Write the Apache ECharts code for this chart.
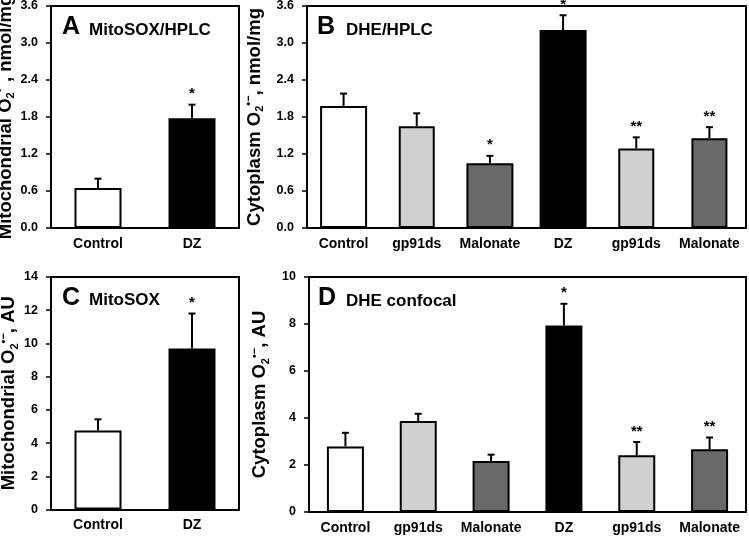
<!DOCTYPE html>
<html><head><meta charset="utf-8">
<script src="https://cdn.jsdelivr.net/npm/echarts@6/dist/echarts.min.js"></script>
<style>html,body{margin:0;padding:0;background:#fff}#c{width:749px;height:537px}</style>
</head><body><div id="c"></div>
<script>
// ---- data ----
const catsA = ['Control', 'DZ'];
const valsA = [0.65, 1.78];
const errA = [0.15, 0.22];
const starsA = ['', '*'];

const catsB = ['Control', 'gp91ds', 'Malonate', 'DZ', 'gp91ds', 'Malonate'];
const valsB = [1.98, 1.65, 1.05, 3.21, 1.29, 1.455];
const errB = [0.20, 0.21, 0.12, 0.24, 0.18, 0.18];
const starsB = ['', '', '*', '*', '**', '**'];

const catsC = ['Control', 'DZ'];
const valsC = [4.75, 9.7];
const errC = [0.68, 2.1];
const starsC = ['', '*'];

const catsD = ['Control', 'gp91ds', 'Malonate', 'DZ', 'gp91ds', 'Malonate'];
const valsD = [2.79, 3.87, 2.17, 7.94, 2.41, 2.67];
const errD = [0.58, 0.31, 0.27, 0.92, 0.57, 0.50];
const starsD = ['', '', '', '*', '**', '**'];

const ticksHPLC = ['0.0', '0.6', '1.2', '1.8', '2.4', '3.0', '3.6'];

// ---- styles ----
const FONT = 'Arial, "Liberation Sans", Helvetica, sans-serif';
const colTwo = ['#ffffff', '#000000'];
const colSix = ['#ffffff', '#d0d0d0', '#696969', '#000000', '#d0d0d0', '#696969'];
const wideB = [true, false, true, true, false, false];

const chart = echarts.init(document.getElementById('c'), null, {renderer: 'canvas'});

function richName(pre, post) {
  return pre + ' O{sb|2}{sp|•−}' + post;
}
const nameRich = {
  sb: {fontSize: 11, fontWeight: 'bold', fontFamily: FONT, color: '#000', verticalAlign: 'bottom', lineHeight: 11},
  sp: {fontSize: 11, fontWeight: 'bold', fontFamily: FONT, color: '#000', verticalAlign: 'top', lineHeight: 11}
};

function yAxis(gi, max, interval, name, gap, fmt) {
  return {
    type: 'value', gridIndex: gi, min: 0, max: max, interval: interval,
    name: name, nameLocation: 'middle', nameGap: gap, nameRotate: 90,
    nameTextStyle: {fontSize: 18.5, fontWeight: 'bold', fontFamily: FONT, color: '#000', lineHeight: 22, rich: nameRich},
    axisLine: {show: true, lineStyle: {color: '#000', width: 2}},
    axisTick: {show: true, inside: false, length: 5, lineStyle: {color: '#000', width: 1.5}},
    axisLabel: {fontSize: 12.5, fontWeight: 'bold', fontFamily: FONT, color: '#000', margin: 13,
      formatter: fmt},
    splitLine: {show: false}
  };
}
function frameY(gi, max) {
  return {
    type: 'value', gridIndex: gi, position: 'right', min: 0, max: max,
    axisLine: {show: true, lineStyle: {color: '#000', width: 2}},
    axisTick: {show: false}, axisLabel: {show: false}, splitLine: {show: false}
  };
}
function xAxis(gi, cats, show) {
  return {
    type: 'category', gridIndex: gi, data: cats, show: show !== false,
    axisLine: {show: true, onZero: false, lineStyle: {color: '#000', width: 2}},
    axisTick: {show: false},
    axisLabel: {fontSize: 14, fontWeight: 'bold', fontFamily: FONT, color: '#000', margin: 9, interval: 0},
    splitLine: {show: false}
  };
}
function frameX(gi, cats) {
  return {
    type: 'category', gridIndex: gi, data: cats, position: 'top',
    axisLine: {show: true, onZero: false, lineStyle: {color: '#000', width: 2}},
    axisTick: {show: false}, axisLabel: {show: false}, splitLine: {show: false}
  };
}
function barData(vals, cols, mask) {
  return vals.map((v, i) => (mask && !mask[i]) ? '-' :
    {value: v, itemStyle: {color: cols[i], borderColor: '#000', borderWidth: 2}});
}
function errSeries(xi, yi, vals, errs, stars) {
  return {
    type: 'custom', xAxisIndex: xi, yAxisIndex: yi, z: 5, silent: true,
    data: vals.map((v, i) => [i, v, errs[i]]),
    encode: {x: 0, y: 1},
    renderItem: function (params, api) {
      const i = api.value(0), v = api.value(1), e = api.value(2);
      const p0 = api.coord([i, v]);
      const p1 = api.coord([i, v + e]);
      const ch = [
        {type: 'line', shape: {x1: p0[0], y1: p0[1], x2: p1[0], y2: p1[1]}, style: {stroke: '#000', lineWidth: 2}},
        {type: 'line', shape: {x1: p1[0] - 3.5, y1: p1[1], x2: p1[0] + 3.5, y2: p1[1]}, style: {stroke: '#000', lineWidth: 2}}
      ];
      if (stars[i]) {
        ch.push({type: 'text', x: p1[0], y: p1[1] - 3,
          style: {text: stars[i], fontSize: 15, fontWeight: 'bold', fontFamily: FONT, fill: '#000',
            align: 'center', verticalAlign: 'bottom'}});
      }
      return {type: 'group', children: ch};
    }
  };
}

const gridBase = {show: false, containLabel: false, outerBoundsMode: 'none'};

const option = {
  animation: false,
  backgroundColor: '#fff',
  grid: [
    Object.assign({left: 51, top: 6, width: 188, height: 222}, gridBase),
    Object.assign({left: 307, top: 6, width: 439, height: 222}, gridBase),
    Object.assign({left: 51, top: 277, width: 188, height: 232.5}, gridBase),
    Object.assign({left: 309, top: 277, width: 437, height: 235}, gridBase)
  ],
  xAxis: [
    xAxis(0, catsA),
    xAxis(1, catsB),
    xAxis(1, catsB, false),
    xAxis(2, catsC),
    xAxis(3, catsD),
    frameX(0, catsA), frameX(1, catsB), frameX(2, catsC), frameX(3, catsD)
  ],
  yAxis: [
    yAxis(0, 3.6, 0.6, richName('Mitochondrial', ', nmol/mg'), 33, v => ticksHPLC[Math.round(v / 0.6)]),
    yAxis(1, 3.6, 0.6, richName('Cytoplasm', ', nmol/mg'), 34, v => ticksHPLC[Math.round(v / 0.6)]),
    yAxis(2, 14, 2, richName('Mitochondrial', ', AU'), 30),
    yAxis(3, 10, 2, richName('Cytoplasm', ', AU'), 36),
    frameY(0, 3.6), frameY(1, 3.6), frameY(2, 14), frameY(3, 10)
  ],
  series: [
    {type: 'bar', xAxisIndex: 0, yAxisIndex: 0, barWidth: 47, data: barData(valsA, colTwo)},
    {type: 'bar', xAxisIndex: 1, yAxisIndex: 1, barWidth: 47, data: barData(valsB, colSix, wideB)},
    {type: 'bar', xAxisIndex: 2, yAxisIndex: 1, barWidth: 36, data: barData(valsB, colSix, wideB.map(w => !w))},
    {type: 'bar', xAxisIndex: 3, yAxisIndex: 2, barWidth: 47, data: barData(valsC, colTwo)},
    {type: 'bar', xAxisIndex: 4, yAxisIndex: 3, barWidth: 37, data: barData(valsD, colSix)},
    errSeries(0, 0, valsA, errA, starsA),
    errSeries(1, 1, valsB, errB, starsB),
    errSeries(3, 2, valsC, errC, starsC),
    errSeries(4, 3, valsD, errD, starsD)
  ],
  graphic: [
    {type: 'text', x: 62, y: 27, style: {text: 'A', fontSize: 25, fontWeight: 'bold', fontFamily: FONT, fill: '#000', verticalAlign: 'middle'}},
    {type: 'text', x: 89, y: 30, style: {text: 'MitoSOX/HPLC', fontSize: 17, fontWeight: 'bold', fontFamily: FONT, fill: '#000', verticalAlign: 'middle'}},
    {type: 'text', x: 317, y: 27, style: {text: 'B', fontSize: 25, fontWeight: 'bold', fontFamily: FONT, fill: '#000', verticalAlign: 'middle'}},
    {type: 'text', x: 346, y: 30, style: {text: 'DHE/HPLC', fontSize: 17, fontWeight: 'bold', fontFamily: FONT, fill: '#000', verticalAlign: 'middle'}},
    {type: 'text', x: 62, y: 298, style: {text: 'C', fontSize: 25, fontWeight: 'bold', fontFamily: FONT, fill: '#000', verticalAlign: 'middle'}},
    {type: 'text', x: 89, y: 300, style: {text: 'MitoSOX', fontSize: 17, fontWeight: 'bold', fontFamily: FONT, fill: '#000', verticalAlign: 'middle'}},
    {type: 'text', x: 318, y: 298, style: {text: 'D', fontSize: 25, fontWeight: 'bold', fontFamily: FONT, fill: '#000', verticalAlign: 'middle'}},
    {type: 'text', x: 346, y: 301, style: {text: 'DHE confocal', fontSize: 17, fontWeight: 'bold', fontFamily: FONT, fill: '#000', verticalAlign: 'middle'}}
  ]
};
chart.setOption(option);
</script>
</body></html>
